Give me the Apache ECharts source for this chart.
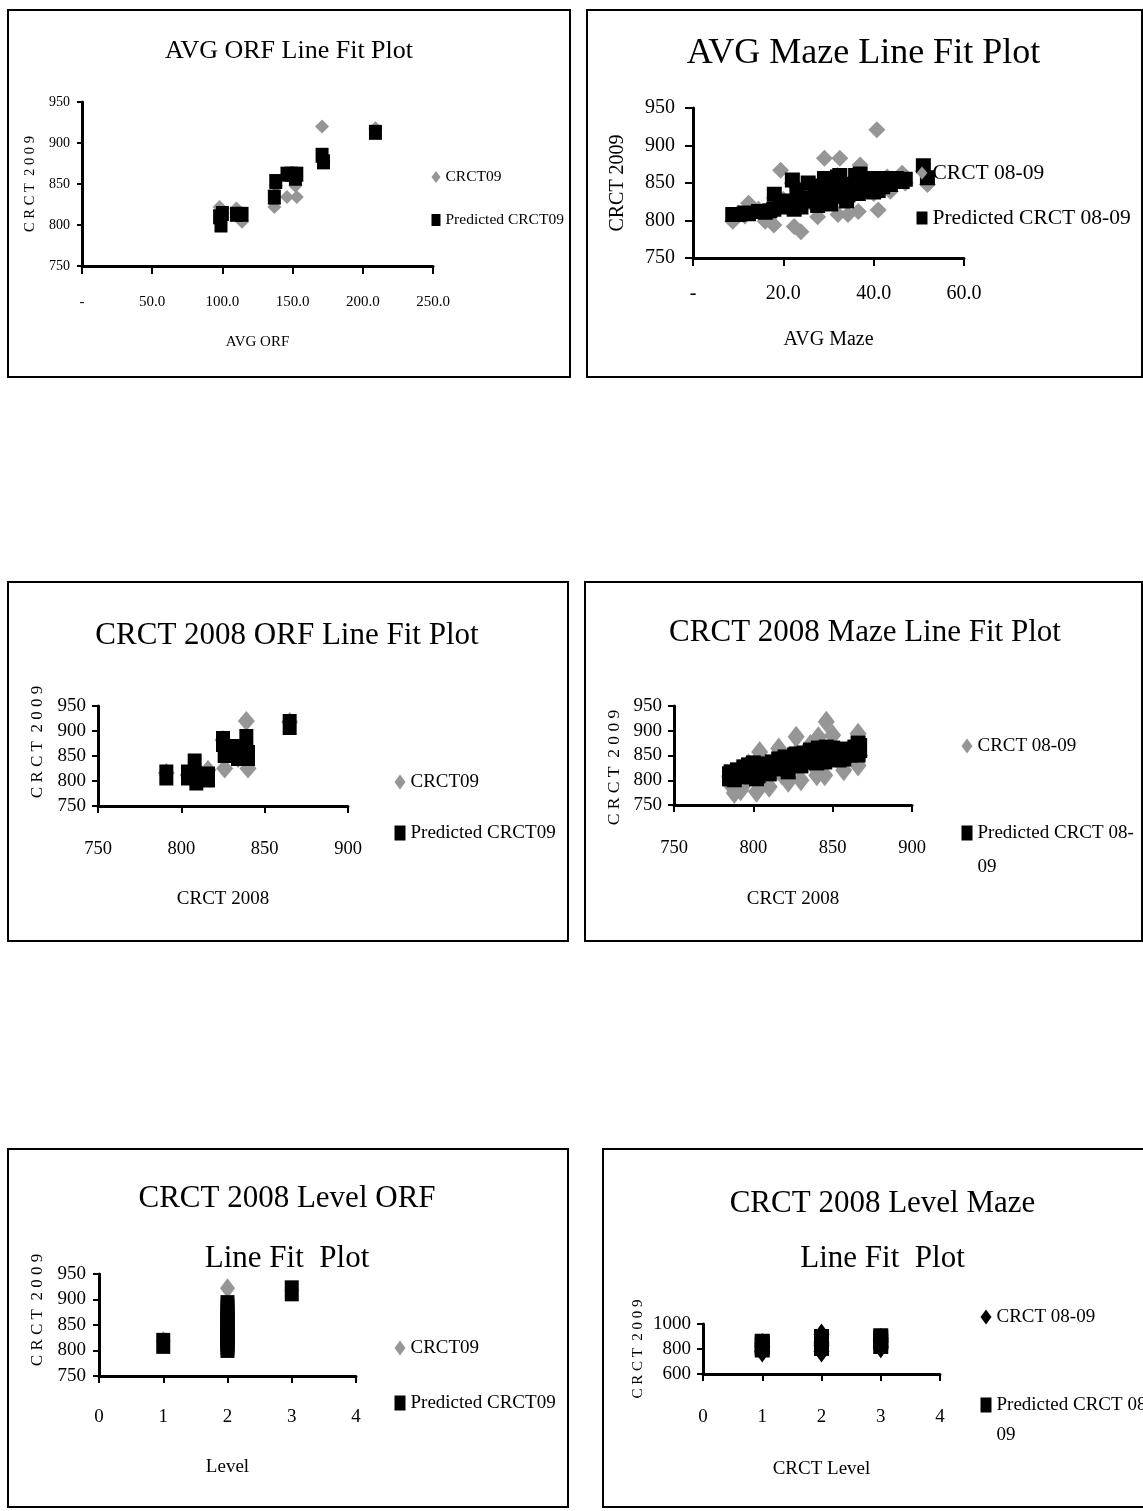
<!DOCTYPE html>
<html>
<head>
<meta charset="utf-8">
<script src="https://cdn.jsdelivr.net/npm/echarts@6/dist/echarts.min.js"></script>
<style>
  body { margin: 0; background: #fff; width: 1143px; height: 1511px; overflow: hidden; position: relative; }
  .panel { position: absolute; border: 2px solid #000; box-sizing: border-box; background: #fff; }
</style>
</head>
<body>
<div class="panel" id="p1" style="left:7px;top:9px;width:564px;height:369px"></div>
<div class="panel" id="p2" style="left:586px;top:9px;width:557px;height:369px"></div>
<div class="panel" id="p3" style="left:7px;top:581px;width:562px;height:361px"></div>
<div class="panel" id="p4" style="left:584px;top:581px;width:559px;height:361px"></div>
<div class="panel" id="p5" style="left:7px;top:1148px;width:562px;height:360px"></div>
<div class="panel" id="p6" style="left:602px;top:1148px;width:600px;height:360px"></div>

<script>
// --- AVG ORF ---
const avgOrf = [98, 99, 100, 110, 114, 137, 138, 146, 149, 152, 153, 171, 172, 209];
const orfCrct09 = [822, 808, 815, 820, 804, 822, 848, 834, 858, 848, 834, 920, 878, 918];
const orfPredicted = [810, 800, 814, 813, 813, 834, 853, 862, 862, 857, 862, 885, 877, 913];
const avgOrfTicks = [0, 50, 100, 150, 200, 250];

// --- AVG Maze ---
const avgMaze = [8.8, 10, 11.5, 12.3, 14.5, 16, 17, 17.9, 18, 19.4, 20, 21, 22, 22.4, 23, 23.9, 24, 25.5, 26, 27,
  27.6, 28.5, 29.1, 29.5, 30.5, 31, 32, 32.1, 32.5, 33, 34, 34.3, 35, 36, 36.6, 37, 37.5, 38, 39, 40,
  40.7, 41, 42, 43, 43.7, 45, 46.3, 47, 51, 51.9];
const mazeCrct0809 = [799, 810, 806, 823, 815, 799, 808, 794, 830, 867, 828, 818, 850, 792, 845, 785, 832, 846, 824, 840,
  805, 850, 883, 828, 825, 838, 860, 808, 883, 846, 830, 808, 844, 858, 812, 874, 852, 838, 854, 836,
  921, 814, 848, 858, 839, 852, 863, 850, 866, 848];
const mazePredicted = [808, 808, 810, 809, 812, 811, 813, 815, 835, 818, 826, 822, 854, 815, 840, 818, 830, 850, 826, 838,
  820, 846, 856, 830, 822, 840, 858, 832, 860, 848, 826, 834, 842, 860, 836, 862, 850, 840, 856, 838,
  856, 840, 845, 856, 848, 856, 852, 855, 873, 857];
const avgMazeTicks = [0, 20, 40, 60];

// --- CRCT 2008 ORF ---
const crct08Orf = [791, 804, 808, 809, 816, 825, 826, 832, 834, 839, 840, 865];
const crct09Orf = [816, 812, 828, 806, 822, 882, 825, 858, 846, 920, 825, 918];
const crct08OrfPredicted = [812, 812, 834, 802, 808, 879, 857, 863, 851, 883, 851, 913];

// --- CRCT 2008 Maze ---
const crct08Maze = [785, 786, 788, 790, 792, 794, 796, 797, 799, 800, 802, 803, 804, 806, 808, 810, 812, 814, 816, 818,
  820, 822, 824, 826, 827, 829, 830, 832, 834, 836, 838, 840, 841, 843, 845, 846, 848, 850, 852, 854,
  857, 859, 861, 864, 866, 866, 867];
const crct0809Maze = [808, 790, 774, 815, 780, 820, 800, 832, 810, 830, 777, 812, 857, 822, 800, 787, 830, 818, 864, 812,
  840, 797, 838, 850, 888, 826, 800, 852, 840, 871, 830, 810, 887, 850, 810, 918, 860, 891, 848, 840,
  820, 856, 850, 862, 894, 830, 850];
const crct08MazePredicted = [808, 812, 806, 816, 812, 822, 818, 826, 812, 830, 808, 814, 828, 820, 822, 818, 832, 828, 838, 830,
  842, 822, 840, 846, 848, 836, 834, 850, 842, 856, 846, 840, 860, 852, 842, 862, 858, 860, 850, 846,
  848, 858, 856, 862, 870, 856, 865];
const crct08Ticks = [750, 800, 850, 900];

// --- CRCT 2008 Level ---
const levelOrf = [1, 2, 2, 2, 2, 2, 2, 2, 2, 2, 2, 2, 2, 3];
const levelOrfCrct09 = [818, 922, 835, 825, 845, 810, 860, 835, 820, 805, 840, 812, 830, 918];
const levelOrfPredicted = [814, 888, 880, 870, 862, 855, 848, 840, 832, 825, 818, 812, 806, 917];

const levelMaze = [1, 1, 1, 2, 2, 2, 2, 3, 3, 3];
const levelMazeCrct0809 = [780, 820, 840, 917, 780, 850, 830, 815, 880, 860];
const levelMazePredicted = [812, 830, 842, 880, 824, 850, 860, 840, 886, 870];
const levelTicks = [0, 1, 2, 3, 4];

const crct09Ticks = [750, 800, 850, 900, 950];
const crct09WideTicks = [600, 800, 1000];

const FONT = '"Liberation Serif", "Times New Roman", serif';
const GRAY = '#969696';

const pairs = (xs, ys) => xs.map((x, i) => [x, ys[i]]);
const text = size => ({ color: '#000', fontFamily: FONT, fontSize: size, fontWeight: 'normal' });

// 單個軸設定
const makeAxis = (ticks, a) => {
    const label = Object.assign(text(a.labelSize), { margin: a.margin });
    label.formatter = a.formatter || (v => String(v));
    return {
        type: 'value',
        min: ticks[0],
        max: ticks[ticks.length - 1],
        interval: ticks[1] - ticks[0],
        name: a.name,
        nameLocation: 'middle',
        nameGap: a.nameGap,
        nameRotate: a.rotate || 0,
        nameTextStyle: Object.assign(text(a.nameSize), { padding: a.namePad || 0 }),
        axisLine: { onZero: false, lineStyle: { color: '#000', width: 3 } },
        axisTick: { length: a.tick, lineStyle: { color: '#000', width: 2 } },
        axisLabel: label,
        splitLine: { show: false }
    };
};

const lineFitPlot = (id, c) => {
    const chart = echarts.init(document.getElementById(id));
    chart.setOption({
        animation: false,
        title: {
            text: c.title,
            left: c.titleX,
            top: c.titleTop,
            textAlign: 'center',
            padding: 0,
            textStyle: Object.assign(text(c.titleSize), { lineHeight: c.titleLine })
        },
        legend: {
            orient: 'vertical',
            left: c.legend.left,
            top: c.legend.top,
            padding: 0,
            itemGap: c.legend.gap,
            itemWidth: c.legend.w,
            itemHeight: c.legend.h,
            selectedMode: false,
            formatter: name => name === 'Predicted CRCT 08-09' && c.legend.wrap ? '\nPredicted CRCT 08-\n09' : name,
            textStyle: Object.assign(text(c.legend.size), { lineHeight: c.legend.line }),
            data: [
                { name: c.names[0], icon: 'diamond' },
                { name: c.names[1], icon: 'rect' }
            ]
        },
        grid: c.grid,
        xAxis: makeAxis(c.xTicks, c.xAxis),
        yAxis: makeAxis(c.yTicks, c.yAxis),
        series: [
            {
                name: c.names[0],
                type: 'scatter',
                symbol: 'diamond',
                symbolSize: c.diamond,
                itemStyle: { color: c.actualColor || GRAY, opacity: 1 },
                data: pairs(c.x, c.actual)
            },
            {
                name: c.names[1],
                type: 'scatter',
                symbol: 'rect',
                symbolSize: c.square,
                itemStyle: { color: '#000', opacity: 1 },
                data: pairs(c.x, c.predicted)
            }
        ]
    });
};

const dashZero = v => (v === 0 ? '-' : v.toFixed(1));
const spacedName = 'C R C T  2 0 0 9';

lineFitPlot('p1', {
    title: 'AVG ORF Line Fit Plot', titleX: 280, titleTop: 25, titleSize: 26, titleLine: 30,
    grid: { left: 73, top: 91, width: 351, height: 164 },
    xTicks: avgOrfTicks, yTicks: crct09Ticks,
    xAxis: { name: 'AVG ORF', nameSize: 15, nameGap: 69, labelSize: 15, margin: 29, tick: 8, formatter: dashZero },
    yAxis: { name: spacedName, nameSize: 14.5, nameGap: 43, rotate: 90, labelSize: 14, margin: 12, tick: 5 },
    names: ['CRCT09', 'Predicted CRCT09'],
    legend: { left: 422.5, top: 157.5, gap: 26, w: 9, h: 12, size: 15.5, line: 17 },
    x: avgOrf, actual: orfCrct09, predicted: orfPredicted,
    diamond: [14, 14], square: [13, 15]
});

lineFitPlot('p2', {
    title: 'AVG Maze Line Fit Plot', titleX: 275.5, titleTop: 23, titleSize: 36, titleLine: 40,
    grid: { left: 105, top: 97, width: 271, height: 150 },
    xTicks: avgMazeTicks, yTicks: crct09Ticks,
    xAxis: { name: 'AVG Maze', nameSize: 20, nameGap: 72, labelSize: 20, margin: 26, tick: 8, formatter: dashZero },
    yAxis: { name: 'CRCT 2009', nameSize: 20, nameGap: 65, rotate: 90, labelSize: 20, margin: 18, tick: 8 },
    names: ['CRCT 08-09', 'Predicted CRCT 08-09'],
    legend: { left: 328.5, top: 150, gap: 21, w: 11, h: 13, size: 21.5, line: 24 },
    x: avgMaze, actual: mazeCrct0809, predicted: mazePredicted,
    diamond: [17, 17], square: [15, 15]
});

lineFitPlot('p3', {
    title: 'CRCT 2008 ORF Line Fit Plot', titleX: 278, titleTop: 35, titleSize: 31, titleLine: 36,
    grid: { left: 89, top: 123, width: 250, height: 100 },
    xTicks: crct08Ticks, yTicks: crct09Ticks,
    xAxis: { name: 'CRCT 2008', nameSize: 19, nameGap: 84, labelSize: 18.5, margin: 34, tick: 7 },
    yAxis: { name: spacedName, nameSize: 17, nameGap: 51.5, rotate: 90, labelSize: 19, margin: 12, tick: 6, namePad: [0, 0, 0, 28] },
    names: ['CRCT09', 'Predicted CRCT09'],
    legend: { left: 385.5, top: 188, gap: 29, w: 11, h: 15, size: 19, line: 22 },
    x: crct08Orf, actual: crct09Orf, predicted: crct08OrfPredicted,
    diamond: [17, 20], square: [14, 21]
});

lineFitPlot('p4', {
    title: 'CRCT 2008 Maze Line Fit Plot', titleX: 279, titleTop: 32, titleSize: 31, titleLine: 36,
    grid: { left: 88, top: 123, width: 238, height: 99 },
    xTicks: crct08Ticks, yTicks: crct09Ticks,
    xAxis: { name: 'CRCT 2008', nameSize: 19, nameGap: 85, labelSize: 18.5, margin: 34, tick: 7 },
    yAxis: { name: spacedName, nameSize: 17.5, nameGap: 51, rotate: 90, labelSize: 19, margin: 12, tick: 6, namePad: [0, 24, 0, 0] },
    names: ['CRCT 08-09', 'Predicted CRCT 08-09'],
    legend: { left: 375.5, top: 146, gap: 19, w: 11, h: 15, size: 19, line: 34, wrap: true },
    x: crct08Maze, actual: crct0809Maze, predicted: crct08MazePredicted,
    diamond: [17, 22], square: [15, 20]
});

lineFitPlot('p5', {
    title: 'CRCT 2008 Level ORF\nLine Fit  Plot', titleX: 278, titleTop: 19, titleSize: 31, titleLine: 60,
    grid: { left: 90, top: 124, width: 257, height: 102 },
    xTicks: levelTicks, yTicks: crct09Ticks,
    xAxis: { name: 'Level', nameSize: 19, nameGap: 82, labelSize: 19, margin: 32, tick: 7 },
    yAxis: { name: spacedName, nameSize: 17, nameGap: 52.5, rotate: 90, labelSize: 19, margin: 13, tick: 6, namePad: [0, 0, 0, 30] },
    names: ['CRCT09', 'Predicted CRCT09'],
    legend: { left: 385.5, top: 187, gap: 33, w: 11, h: 15, size: 19, line: 22 },
    x: levelOrf, actual: levelOrfCrct09, predicted: levelOrfPredicted,
    diamond: [15, 20], square: [14, 21]
});

lineFitPlot('p6', {
    title: 'CRCT 2008 Level Maze\nLine Fit  Plot', titleX: 278.5, titleTop: 26, titleSize: 31, titleLine: 55,
    grid: { left: 99, top: 174, width: 237, height: 50 },
    xTicks: levelTicks, yTicks: crct09WideTicks,
    xAxis: { name: 'CRCT Level', nameSize: 19, nameGap: 86, labelSize: 19, margin: 34, tick: 7 },
    yAxis: { name: spacedName, nameSize: 15, nameGap: 57.5, rotate: 90, labelSize: 19, margin: 12, tick: 6 },
    names: ['CRCT 08-09', 'Predicted CRCT 08-09'],
    legend: { left: 376.5, top: 152, gap: 28, w: 11, h: 15, size: 19, line: 30, wrap: true },
    x: levelMaze, actual: levelMazeCrct0809, predicted: levelMazePredicted,
    actualColor: '#000',
    diamond: [16, 22], square: [15, 20]
});
</script>
</body>
</html>
